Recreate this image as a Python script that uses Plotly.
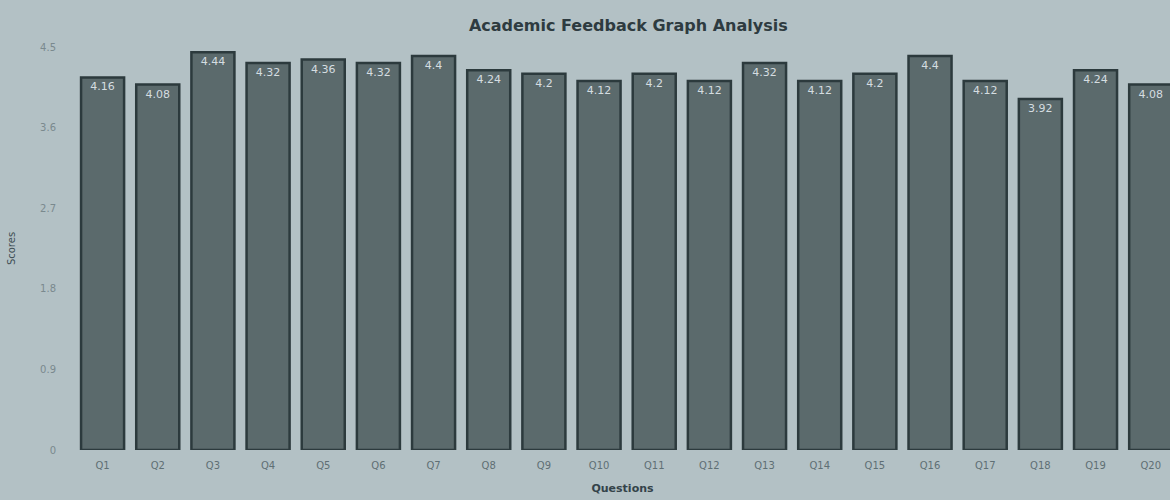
import plotly.graph_objects as go

questions = [f"Q{i}" for i in range(1, 21)]
scores = [4.16, 4.08, 4.44, 4.32, 4.36, 4.32, 4.4, 4.24, 4.2, 4.12,
          4.2, 4.12, 4.32, 4.12, 4.2, 4.4, 4.12, 3.92, 4.24, 4.08]
y_ticks = [0, 0.9, 1.8, 2.7, 3.6, 4.5]
y_tick_labels = ["0", "0.9", "1.8", "2.7", "3.6", "4.5"]

bg = "#b3c1c5"

fig = go.Figure(go.Bar(
    x=questions, y=scores,
    text=[f"{v:g}" for v in scores],
    textposition="inside", insidetextanchor="end",
    textfont=dict(color="#d5dde0", size=11, family="DejaVu Sans"),
    marker=dict(color="#5b6a6c", line=dict(color="#2c3a3d", width=2.5)),
    width=0.78,
))

fig.update_layout(
    width=1170, height=500,
    paper_bgcolor=bg, plot_bgcolor=bg,
    margin=dict(l=75, r=0, t=47, b=50),
    title=dict(text="<b>Academic Feedback Graph Analysis</b>", x=0.537, y=0.95,
               xanchor="center", yanchor="middle",
               font=dict(size=16, color="#2e3b40", family="DejaVu Sans")),
    showlegend=False,
    bargap=0.22,
)
fig.update_xaxes(
    range=[-0.5, 19.35],
    title=dict(text="<b>Questions</b>", font=dict(size=11, color="#34434a", family="DejaVu Sans"), standoff=14),
    tickfont=dict(size=10, color="#5f6f74", family="DejaVu Sans"),
    showgrid=False, showline=False, ticks="", ticklabelstandoff=8,
)
fig.update_yaxes(
    range=[0, 4.5], tickvals=y_ticks, ticktext=y_tick_labels,
    title=dict(text="Scores", font=dict(size=10, color="#3e4d53", family="DejaVu Sans"), standoff=22),
    tickfont=dict(size=10, color="#7a898e", family="DejaVu Sans"),
    showgrid=False, zeroline=False, showline=False, ticks="", ticklabelstandoff=18,
)

fig.write_html("out.html", config={"displayModeBar": False},
               post_script="document.body.style.margin='0';document.body.style.background='%s';" % bg)
